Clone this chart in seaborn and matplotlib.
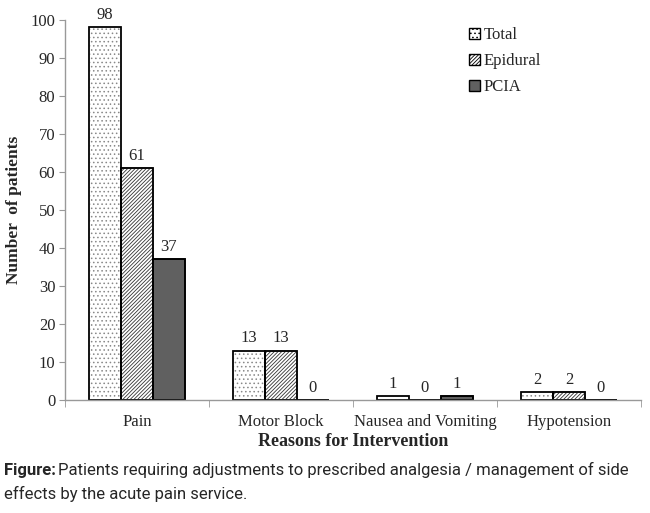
import matplotlib
matplotlib.use("Agg")
import matplotlib.pyplot as plt
from matplotlib.patches import Patch, Rectangle
import pandas as pd
import seaborn as sns

# values
reasons = ["Pain", "Motor Block", "Nausea and Vomiting", "Hypotension"]
total = [98, 13, 1, 2]
epidural = [61, 13, 0, 2]
pcia = [37, 0, 1, 0]
groups = ["Total", "Epidural", "PCIA"]

df = pd.DataFrame({
    "reason": reasons * 3,
    "group": [g for g in groups for _ in reasons],
    "patients": total + epidural + pcia,
})

sns.set_style("white")
plt.rcParams["font.family"] = ["Liberation Serif", "DejaVu Serif"]
plt.rcParams["hatch.linewidth"] = 0.6

fig = plt.figure(figsize=(6.5, 5.13), dpi=100)
ax = fig.add_axes([0.1, 0.2203, 0.886, 0.741])

face = {"Total": "white", "Epidural": "white", "PCIA": "#606060"}
hatch = {"Total": "....", "Epidural": "/////////", "PCIA": ""}
# hatch colour is taken from the edge colour, so draw the black outline on top
hcolor = {"Total": "#888888", "Epidural": "#333333", "PCIA": "black"}

sns.barplot(data=df, x="reason", y="patients", hue="group", order=reasons,
            hue_order=groups, width=0.667, palette=face, edgecolor="black",
            linewidth=1.2, legend=False, ax=ax)

for cont, g in zip(ax.containers, groups):
    for bar in cont:
        bar.set_hatch(hatch[g])
        bar.set_edgecolor(hcolor[g])
        ax.add_patch(Rectangle(bar.get_xy(), bar.get_width(), bar.get_height(),
                               fill=False, edgecolor="black", linewidth=1.2,
                               zorder=bar.get_zorder() + 0.1))
    ax.bar_label(cont, padding=3, fontsize=12)

ax.set_ylim(0, 100)
ax.set_xlim(-0.5, 3.5)
ax.set_yticks(range(0, 101, 10))
ax.tick_params(axis="y", labelsize=12, length=4, left=True, color="#999999", pad=3)
ax.tick_params(axis="x", labelsize=12, length=0, pad=10)
ax.set_xticks([-0.5, 0.5, 1.5, 2.5, 3.5], minor=True)
ax.tick_params(axis="x", which="minor", bottom=True, length=5, color="#999999")

for side in ["top", "right"]:
    ax.spines[side].set_visible(False)
for side in ["left", "bottom"]:
    ax.spines[side].set_color("#999999")
    ax.spines[side].set_linewidth(1.0)

ax.set_ylabel("Number  of patients", fontsize=12.5, fontweight="bold", labelpad=6)
ax.set_xlabel("Reasons for Intervention", fontsize=13, fontweight="bold", labelpad=2)

handles = [Patch(facecolor=face[g], edgecolor="black", hatch=hatch[g], label=g)
           for g in groups]
leg = ax.legend(handles=handles, loc="upper left", bbox_to_anchor=(0.675, 1.02),
                frameon=False, fontsize=12, handlelength=0.7, handleheight=0.7,
                handletextpad=0.2, labelspacing=0.6)

cap_font = ["Liberation Sans Narrow", "Roboto", "DejaVu Sans"]
head = fig.text(0.006, 0.075, "Figure:", fontsize=12, fontweight="bold",
                family=cap_font, va="baseline")
fig.canvas.draw()
bb = head.get_window_extent().transformed(fig.transFigure.inverted())
fig.text(bb.x1 + 0.004, 0.075,
         "Patients requiring adjustments to prescribed analgesia / management of side",
         fontsize=12, family=cap_font, va="baseline")
fig.text(0.006, 0.028, "effects by the acute pain service.", fontsize=12,
         family=cap_font, va="baseline")

fig.savefig("out.png", dpi=100)
